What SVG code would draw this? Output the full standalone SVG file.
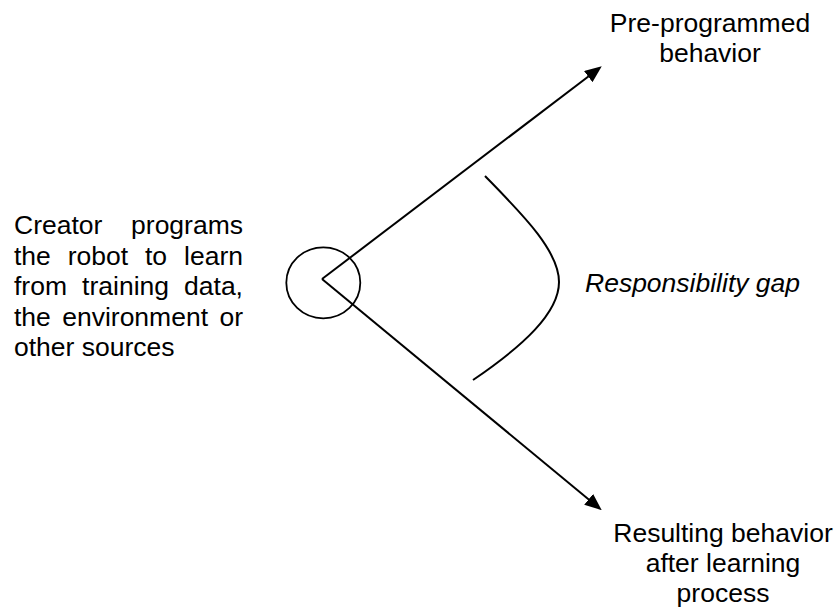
<svg xmlns="http://www.w3.org/2000/svg" width="835" height="610" viewBox="0 0 835 610">
<style>
text{font-family:"Liberation Sans",Arial,sans-serif;font-size:26.5px;fill:#000}
.it{font-style:italic}
.ln{stroke:#000;stroke-width:2;fill:none}
</style>
<defs>
<marker id="ah" markerUnits="userSpaceOnUse" markerWidth="17" markerHeight="14" refX="8" refY="7" orient="auto">
<path d="M0,0 L17,7 L0,14 z" fill="#000"/>
</marker>
</defs>
<rect width="835" height="610" fill="#fff"/>
<g id="connectors">
<line class="ln" x1="322" y1="279" x2="594.6" y2="71.8" marker-end="url(#ah)"/>
<line class="ln" x1="322" y1="279" x2="594.8" y2="504.4" marker-end="url(#ah)"/>
<path class="ln" d="M485,176 C520,212 559,250 559,282 C559,313 523,346 473,380"/>
</g>
<g id="creator">
<ellipse cx="323.3" cy="282.8" rx="37" ry="35.5" fill="none" stroke="#000" stroke-width="1.8"/>
<text x="14" y="234">Creator</text>
<text x="243" y="234" text-anchor="end">programs</text>
<text y="264.5"><tspan x="14">the</tspan><tspan x="67.7">robot</tspan><tspan x="145">to</tspan></text>
<text x="243" y="264.5" text-anchor="end">learn</text>
<text y="295"><tspan x="14">from</tspan><tspan x="82.1">training</tspan></text>
<text x="243" y="295" text-anchor="end">data,</text>
<text y="325.5"><tspan x="14">the</tspan><tspan x="62.2">environment</tspan></text>
<text x="243" y="325.5" text-anchor="end">or</text>
<text x="14" y="356">other sources</text>
</g>
<g id="preprogrammed">
<text x="710" y="31.7" text-anchor="middle">Pre-programmed</text>
<text x="710" y="61.7" text-anchor="middle">behavior</text>
</g>
<g id="resulting">
<text x="723" y="541.7" text-anchor="middle">Resulting behavior</text>
<text x="723" y="571.7" text-anchor="middle">after learning</text>
<text x="723" y="601.7" text-anchor="middle">process</text>
</g>
<g id="gap">
<text class="it" x="585" y="291.7">Responsibility gap</text>
</g>
</svg>
